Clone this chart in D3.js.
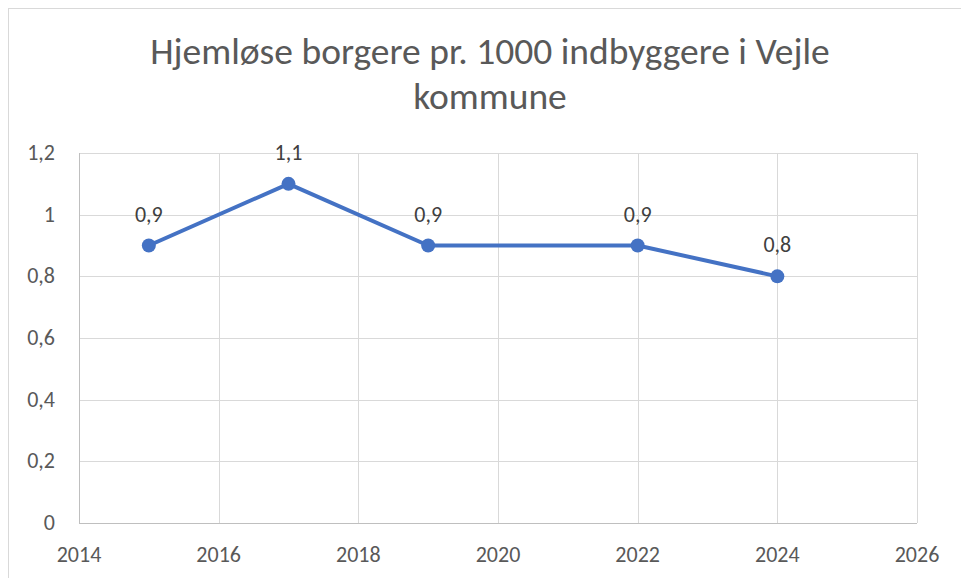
<!DOCTYPE html>
<html>
<head>
<meta charset="utf-8">
<script src="https://cdn.jsdelivr.net/npm/d3@7.9.0/dist/d3.min.js"></script>
<style>
    body { margin: 0; background: #fff; }
    svg { display: block; font-family: Carlito, Calibri, "Liberation Sans", sans-serif; }
</style>
</head>
<body>
<div id="chart"></div>
<script>
const years = [2015, 2017, 2019, 2022, 2024];
const values = [0.9, 1.1, 0.9, 0.9, 0.8];
const xTicks = [2014, 2016, 2018, 2020, 2022, 2024, 2026];
const yTicks = [0, 0.2, 0.4, 0.6, 0.8, 1, 1.2];
const titleLines = ['Hjemløse borgere pr. 1000 indbyggere i Vejle', 'kommune'];

const width = 961;
const height = 578;
const plot = { left: 79, right: 917, top: 153, bottom: 523 };

const fmt = (d) => String(d).replace('.', ',');

const svg = d3.select('#chart')
    .append('svg')
    .attr('width', width)
    .attr('height', height);

// chart frame
svg.append('rect')
    .attr('x', 8.5).attr('y', 8.5)
    .attr('width', 960).attr('height', 600)
    .attr('fill', 'none')
    .attr('stroke', '#d9d9d9');

const xScale = d3.scaleLinear().domain([2014, 2026]).range([plot.left, plot.right]);
const yScale = d3.scaleLinear().domain([0, 1.2]).range([plot.bottom, plot.top]);

// gridlines
svg.append('g')
    .selectAll('line.h')
    .data(yTicks)
    .join('line')
    .attr('x1', plot.left).attr('x2', plot.right)
    .attr('y1', (d) => Math.round(yScale(d)) + 0.5)
    .attr('y2', (d) => Math.round(yScale(d)) + 0.5)
    .attr('stroke', (d) => d === 0 ? '#bfbfbf' : '#d9d9d9');

svg.append('g')
    .selectAll('line.v')
    .data(xTicks)
    .join('line')
    .attr('x1', (d) => Math.round(xScale(d)) + 0.5)
    .attr('x2', (d) => Math.round(xScale(d)) + 0.5)
    .attr('y1', plot.top).attr('y2', plot.bottom)
    .attr('stroke', (d) => d === 2014 ? '#bfbfbf' : '#d9d9d9');

// y tick labels
svg.append('g')
    .selectAll('text')
    .data(yTicks)
    .join('text')
    .attr('x', 55)
    .attr('y', (d) => yScale(d) + 7)
    .attr('text-anchor', 'end')
    .attr('font-size', 22)
    .attr('fill', '#595959')
    .text(fmt);

// x tick labels
svg.append('g')
    .selectAll('text')
    .data(xTicks)
    .join('text')
    .attr('x', (d) => xScale(d))
    .attr('y', 562)
    .attr('text-anchor', 'middle')
    .attr('font-size', 22)
    .attr('fill', '#595959')
    .text((d) => d);

// title
svg.append('text')
    .attr('font-size', 37.5)
    .attr('fill', '#595959')
    .attr('text-anchor', 'middle')
    .selectAll('tspan')
    .data(titleLines)
    .join('tspan')
    .attr('x', 490)
    .attr('y', (d, i) => 64 + i * 45)
    .text((d) => d);

const points = years.map((y, i) => ({ year: y, value: values[i] }));

const line = d3.line()
    .x((d) => xScale(d.year))
    .y((d) => yScale(d.value));

svg.append('path')
    .datum(points)
    .attr('d', line)
    .attr('fill', 'none')
    .attr('stroke', '#4472c4')
    .attr('stroke-width', 4)
    .attr('stroke-linejoin', 'round');

svg.append('g')
    .selectAll('circle')
    .data(points)
    .join('circle')
    .attr('cx', (d) => xScale(d.year))
    .attr('cy', (d) => yScale(d.value))
    .attr('r', 7)
    .attr('fill', '#4472c4');

// data labels
svg.append('g')
    .selectAll('text')
    .data(points)
    .join('text')
    .attr('x', (d) => xScale(d.year))
    .attr('y', (d) => yScale(d.value) - 24)
    .attr('text-anchor', 'middle')
    .attr('font-size', 22)
    .attr('fill', '#404040')
    .text((d) => fmt(d.value));
</script>
</body>
</html>
